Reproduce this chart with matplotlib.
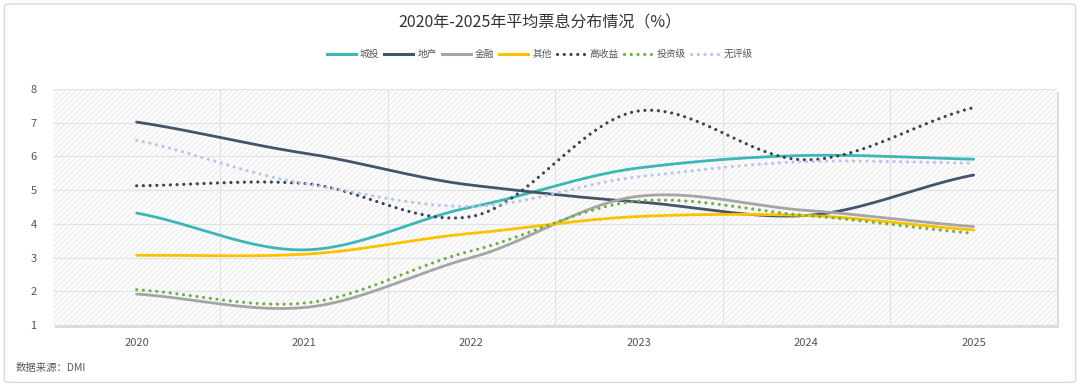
import numpy as np
import matplotlib
matplotlib.use("Agg")
import matplotlib.pyplot as plt
from matplotlib.patches import Rectangle, FancyBboxPatch
from matplotlib.lines import Line2D

plt.rcParams["font.family"] = ["Noto Sans CJK SC", "DejaVu Sans"]
plt.rcParams["hatch.linewidth"] = 0.6
plt.rcParams["hatch.color"] = "#e6e6e6"

years = ["2020", "2021", "2022", "2023", "2024", "2025"]

chengtou = [4.32, 3.23, 4.50, 5.66, 6.03, 5.92]
dichan = [7.02, 6.10, 5.15, 4.65, 4.25, 5.45]
jinrong = [1.92, 1.52, 3.00, 4.82, 4.40, 3.92]
qita = [3.07, 3.10, 3.72, 4.22, 4.25, 3.82]
gaoshouyi = [5.13, 5.20, 4.22, 7.35, 5.90, 7.45]
touziji = [2.05, 1.65, 3.20, 4.68, 4.25, 3.72]
wupingji = [6.48, 5.20, 4.52, 5.40, 5.85, 5.80]

series = [
    ("城投", chengtou, "#3cb6b6", "-"),
    ("地产", dichan, "#44546a", "-"),
    ("金融", jinrong, "#a5a5a5", "-"),
    ("其他", qita, "#ffc000", "-"),
    ("高收益", gaoshouyi, "#3d4350", ":"),
    ("投资级", touziji, "#70ad47", ":"),
    ("无评级", wupingji, "#b4c7e7", ":"),
]

DOTS = (0, (0.01, 2.1))


def smooth(x, y, n=40):
    # catmull-rom style curve through the points, just for drawing
    x = np.asarray(x, float)
    y = np.asarray(y, float)
    m = np.zeros_like(y)
    m[1:-1] = (y[2:] - y[:-2]) / (x[2:] - x[:-2])
    m[0] = (y[1] - y[0]) / (x[1] - x[0])
    m[-1] = (y[-1] - y[-2]) / (x[-1] - x[-2])
    m *= 0.8
    xs, ys = [], []
    for i in range(len(x) - 1):
        h = x[i + 1] - x[i]
        t = np.linspace(0, 1, n)
        h00 = 2 * t**3 - 3 * t**2 + 1
        h10 = t**3 - 2 * t**2 + t
        h01 = -2 * t**3 + 3 * t**2
        h11 = t**3 - t**2
        xs.append(x[i] + t * h)
        ys.append(h00 * y[i] + h10 * h * m[i] + h01 * y[i + 1] + h11 * h * m[i + 1])
    return np.concatenate(xs), np.concatenate(ys)


def main():
    fig = plt.figure(figsize=(10.8, 3.87), dpi=100)
    fig.patch.set_facecolor("white")

    # outer card border
    fig.patches.append(FancyBboxPatch((0.004, 0.012), 0.992, 0.978,
                                      boxstyle="round,pad=0,rounding_size=0.006",
                                      transform=fig.transFigure, facecolor="none",
                                      edgecolor="#d9d9d9", linewidth=1.0, zorder=-5))

    left, bottom, width, height = 0.049, 0.160, 0.930, 0.610
    # shadow behind the plot area
    fig.patches.append(Rectangle((left + 0.002, bottom - 0.008), width, height,
                                 transform=fig.transFigure, facecolor="#dcdcdc",
                                 edgecolor="none", zorder=-5))

    ax = fig.add_axes([left, bottom, width, height])
    ax.set_facecolor("#fcfcfc")
    ax.add_patch(Rectangle((0, 0), 1, 1, transform=ax.transAxes, facecolor="none",
                           edgecolor="#e8e8e8", hatch="//////", linewidth=0, zorder=0))

    x = np.arange(len(years))
    for name, vals, color, ls in series:
        sx, sy = smooth(x, vals)
        if ls == "-":
            ax.plot(sx, sy, color=color, lw=2.0, solid_capstyle="round", zorder=3)
        else:
            ax.plot(sx, sy, color=color, lw=2.3, linestyle=DOTS,
                    dash_capstyle="round", zorder=3)

    ax.set_xlim(-0.5, len(years) - 0.5)
    ax.set_ylim(1, 8)
    ax.set_xticks(x)
    ax.set_xticklabels(years)
    ax.set_yticks(range(1, 9))
    ax.set_xticks(np.arange(0.5, len(years) - 0.5, 1), minor=True)
    ax.grid(axis="y", color="#e2e2e2", lw=0.8)
    ax.grid(axis="x", which="minor", color="#e2e2e2", lw=0.8)
    ax.set_axisbelow(True)
    ax.tick_params(which="both", length=0)
    ax.tick_params(axis="x", pad=9, labelsize=8, labelcolor="#555555")
    ax.tick_params(axis="y", pad=14, labelsize=8, labelcolor="#555555")
    for s in ax.spines.values():
        s.set_visible(False)
    for t in ax.get_yticklabels():
        t.set_ha("center")

    fig.text(0.5, 0.94, "2020年-2025年平均票息分布情况（%）", ha="center", va="center",
             fontsize=11.5, color="#333333", fontweight="medium")

    handles = []
    for name, vals, color, ls in series:
        if ls == "-":
            handles.append(Line2D([], [], color=color, lw=2.2, label=name))
        else:
            handles.append(Line2D([], [], color=color, lw=2.3, linestyle=DOTS,
                                  dash_capstyle="round", label=name))
    fig.legend(handles=handles, loc="center", bbox_to_anchor=(0.5, 0.86), ncol=7,
               frameon=False, fontsize=7, handlelength=3.0, handletextpad=0.4,
               columnspacing=0.5, labelcolor="#595959")

    fig.text(0.014, 0.05, "数据来源：DMI", ha="left", va="center", fontsize=7.5,
             color="#595959")

    fig.savefig("out.png", dpi=100)


if __name__ == "__main__":
    main()
